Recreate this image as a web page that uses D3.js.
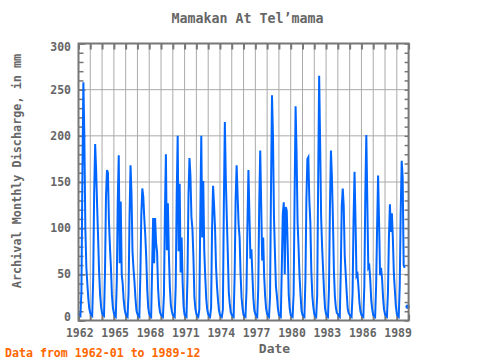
<!DOCTYPE html>
<html><head><meta charset="utf-8">
<script src="https://cdn.jsdelivr.net/npm/d3@7"></script>
<style>body{margin:0;background:#fff}svg{display:block}</style>
</head><body>
<svg id="c" width="480" height="360"></svg>
<script>
// Monthly discharge (mm), Jan..Dec for each year
const d1962 = [8, 6, 5, 30, 156, 258, 199, 100, 58, 40, 24, 13];
const d1963 = [8, 6, 5, 45, 138, 191, 163, 124, 89, 53, 28, 15];
const d1964 = [8, 6, 5, 52, 133, 163, 160, 108, 80, 58, 28, 14];
const d1965 = [8, 5, 4, 42, 128, 179, 62, 129, 50, 40, 22, 12];
const d1966 = [7, 5, 4, 30, 112, 168, 137, 75, 56, 42, 24, 11];
const d1967 = [7, 5, 4, 49, 114, 143, 134, 111, 92, 68, 33, 14];
const d1968 = [7, 5, 4, 58, 111, 62, 111, 84, 74, 35, 17, 9];
const d1969 = [6, 5, 4, 28, 116, 180, 76, 127, 72, 36, 17, 10];
const d1970 = [6, 5, 4, 37, 135, 200, 75, 148, 52, 90, 42, 15];
const d1971 = [6, 5, 4, 48, 135, 176, 157, 112, 99, 69, 25, 13];
const d1972 = [7, 5, 4, 12, 112, 200, 90, 151, 76, 48, 24, 12];
const d1973 = [7, 5, 4, 14, 100, 146, 126, 100, 58, 37, 22, 11];
const d1974 = [6, 5, 4, 12, 125, 215, 153, 111, 72, 31, 18, 9];
const d1975 = [6, 5, 4, 50, 131, 168, 136, 104, 90, 50, 25, 13];
const d1976 = [6, 5, 4, 32, 104, 163, 115, 67, 77, 50, 24, 11];
const d1977 = [7, 5, 4, 35, 125, 184, 126, 65, 90, 48, 26, 13];
const d1978 = [7, 5, 4, 26, 143, 244, 200, 112, 72, 37, 26, 13];
const d1979 = [6, 5, 4, 58, 115, 128, 50, 123, 119, 78, 28, 13];
const d1980 = [6, 5, 4, 29, 134, 232, 182, 107, 79, 48, 28, 11];
const d1981 = [6, 5, 4, 43, 130, 175, 177, 130, 106, 54, 27, 15];
const d1982 = [7, 5, 4, 27, 151, 265, 193, 112, 79, 55, 30, 13];
const d1983 = [7, 5, 4, 34, 123, 184, 155, 110, 54, 26, 14, 8];
const d1984 = [7, 5, 4, 55, 124, 143, 124, 70, 50, 30, 13, 8];
const d1985 = [6, 5, 4, 29, 108, 161, 108, 48, 50, 36, 19, 10];
const d1986 = [6, 5, 4, 38, 137, 201, 131, 57, 59, 44, 22, 12];
const d1987 = [6, 5, 4, 38, 100, 157, 107, 49, 57, 46, 25, 12];
const d1988 = [7, 5, 4, 30, 89, 126, 96, 116, 88, 51, 33, 16];
const d1989 = [7, 5, 4, 37, 117, 173, 155, 60, 57, null, null, 15];

const yearRows = [d1962, d1963, d1964, d1965, d1966, d1967, d1968, d1969, d1970, d1971,
  d1972, d1973, d1974, d1975, d1976, d1977, d1978, d1979, d1980, d1981,
  d1982, d1983, d1984, d1985, d1986, d1987, d1988, d1989];
const firstYear = 1962;
const yTickValues = [0, 50, 100, 150, 200, 250, 300];
const xLabelYears = [1962, 1965, 1968, 1971, 1974, 1977, 1980, 1983, 1986, 1989];

const titleText = "Mamakan At Tel\u2019mama";
const yTitle = "Archival Monthly Discharge, in mm";
const xTitle = "Date";
const footText = "Data from 1962-01 to 1989-12";

const data = yearRows.flatMap((row, i) => row.map((v, m) => ({date: new Date(firstYear + i, m, 1), v})));

const L = 78.5, R = 408.6, T = 43.5, B = 320.5;
const svg = d3.select("#c");
const x = d3.scaleTime().domain([new Date(1962, 0, 1), new Date(1990, 0, 1)]).range([L, R]);
const y = d3.scaleLinear().domain([0, 300]).range([B, T]);

const grey = "#777", gridc = "#aaa", txt = "#666";
const font = "'DejaVu Sans Mono', monospace";

// grid
const yearTicks = d3.range(1962, 1991).map(yy => new Date(yy, 0, 1));
svg.append("g").selectAll("line").data(yearTicks).join("line")
  .attr("x1", d => x(d)).attr("x2", d => x(d)).attr("y1", T).attr("y2", B)
  .attr("stroke", gridc).attr("stroke-width", 1);
svg.append("g").selectAll("line").data(yTickValues).join("line")
  .attr("x1", L).attr("x2", R).attr("y1", d => y(d)).attr("y2", d => y(d))
  .attr("stroke", gridc).attr("stroke-width", 1);

// axes via d3
const minorY = d3.range(0, 301, 10);
svg.append("g").attr("transform", `translate(${L},0)`)
  .call(d3.axisRight(y).tickValues(minorY).tickSize(5).tickFormat(""))
  .call(g => g.select(".domain").remove())
  .call(g => g.selectAll("line").attr("stroke", grey).attr("stroke-width", 1.5));
svg.append("g").attr("transform", `translate(${L},0)`)
  .call(d3.axisRight(y).tickValues(yTickValues).tickSize(7).tickFormat(""))
  .call(g => g.select(".domain").remove())
  .call(g => g.selectAll("line").attr("stroke", grey).attr("stroke-width", 1.5));
svg.append("g").attr("transform", `translate(${R},0)`)
  .call(d3.axisLeft(y).tickValues(minorY).tickSize(4).tickFormat(""))
  .call(g => g.select(".domain").remove())
  .call(g => g.selectAll("line").attr("stroke", grey).attr("stroke-width", 1.5));
svg.append("g").attr("transform", `translate(0,${T})`)
  .call(d3.axisBottom(x).tickValues(yearTicks).tickSize(6).tickFormat(""))
  .call(g => g.select(".domain").remove())
  .call(g => g.selectAll("line").attr("stroke", grey).attr("stroke-width", 2));
svg.append("g").attr("transform", `translate(0,${B})`)
  .call(d3.axisTop(x).tickValues(yearTicks).tickSize(6).tickFormat(""))
  .call(g => g.select(".domain").remove())
  .call(g => g.selectAll("line").attr("stroke", grey).attr("stroke-width", 2));

// data line
const line = d3.line().defined(d => d.v != null).x(d => x(d.date)).y(d => y(d.v));
svg.append("path").datum(data).attr("d", line)
  .attr("fill", "none").attr("stroke", "#0066ff").attr("stroke-width", 2).attr("stroke-linejoin", "miter");
const isolated = data.filter((d, i) => d.v != null &&
  (i === 0 || data[i-1].v == null) && (i === data.length - 1 || data[i+1].v == null));
svg.append("g").selectAll("circle").data(isolated).join("circle")
  .attr("cx", d => x(d.date)).attr("cy", d => y(d.v)).attr("r", 2.2).attr("fill", "#0066ff");

// frame
svg.append("rect").attr("x", L).attr("y", T).attr("width", R - L).attr("height", B - T)
  .attr("fill", "none").attr("stroke", grey).attr("stroke-width", 2);

// tick labels
svg.append("g").selectAll("text").data(yTickValues).join("text")
  .attr("x", 71).attr("y", d => y(d) + (d === 0 ? -4 : d === 300 ? 3 : 0)).attr("dy", "0.35em")
  .attr("text-anchor", "end").attr("font-family", font).attr("font-weight", "bold")
  .attr("font-size", 11.5).attr("fill", txt).text(d => d);
svg.append("g").selectAll("text").data(xLabelYears).join("text")
  .attr("x", d => x(new Date(d, 0, 1)) + 1.3).attr("y", 337.3)
  .attr("text-anchor", "middle").attr("font-family", font).attr("font-weight", "bold")
  .attr("font-size", 11.5).attr("fill", txt).text(d => d);

// titles
svg.append("text").attr("x", 247.5).attr("y", 23).attr("text-anchor", "middle")
  .attr("font-family", font).attr("font-weight", "bold").attr("font-size", 13.3)
  .attr("fill", txt).text(titleText);
svg.append("text").attr("x", 274.5).attr("y", 352.5).attr("text-anchor", "middle")
  .attr("font-family", font).attr("font-weight", "bold").attr("font-size", 13)
  .attr("fill", txt).text(xTitle);
svg.append("text").attr("transform", "translate(20.5,171) rotate(-90)").attr("text-anchor", "middle")
  .attr("font-family", font).attr("font-weight", "bold").attr("font-size", 11.8)
  .attr("fill", txt).text(yTitle);
svg.append("text").attr("x", 5).attr("y", 356.5)
  .attr("font-family", font).attr("font-weight", "bold").attr("font-size", 11.6)
  .attr("fill", "#ff6600").text(footText);
</script>
</body></html>
